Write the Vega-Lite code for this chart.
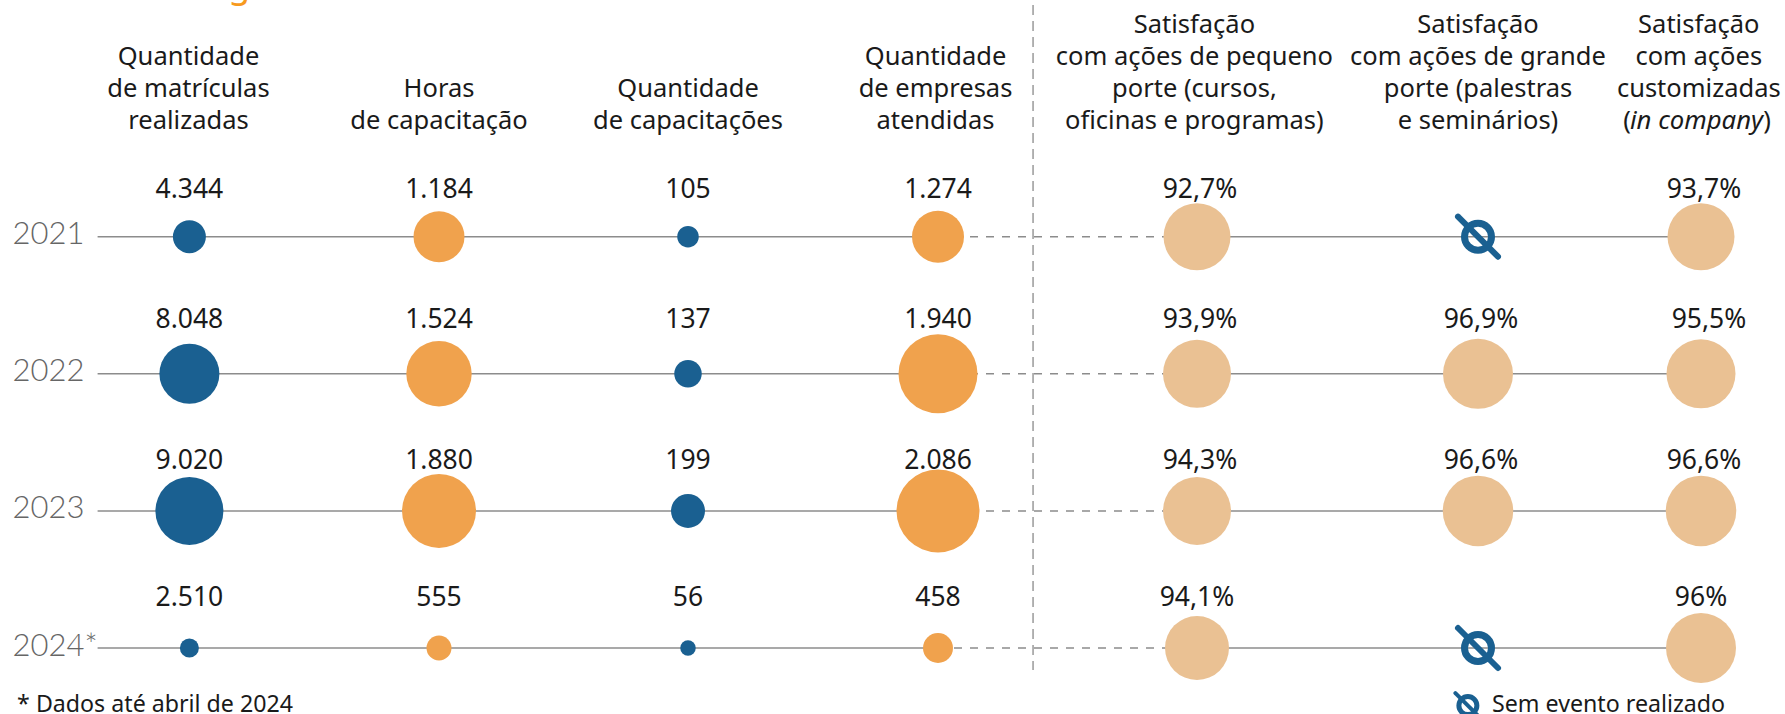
{"$schema":"https://vega.github.io/schema/vega-lite/v6.json","width":1785,"height":714,"autosize":"none","padding":0,"background":"white","config":{"view":{"stroke":null},"font":"Noto Sans"},
"datasets":{
"cells":[
{"year":2021,"col":1,"metric":"mat","value":4344,"label":"4.344"},{"year":2022,"col":1,"metric":"mat","value":8048,"label":"8.048"},{"year":2023,"col":1,"metric":"mat","value":9020,"label":"9.020"},{"year":2024,"col":1,"metric":"mat","value":2510,"label":"2.510"},
{"year":2021,"col":2,"metric":"hor","value":1184,"label":"1.184"},{"year":2022,"col":2,"metric":"hor","value":1524,"label":"1.524"},{"year":2023,"col":2,"metric":"hor","value":1880,"label":"1.880"},{"year":2024,"col":2,"metric":"hor","value":555,"label":"555"},
{"year":2021,"col":3,"metric":"cap","value":105,"label":"105"},{"year":2022,"col":3,"metric":"cap","value":137,"label":"137"},{"year":2023,"col":3,"metric":"cap","value":199,"label":"199"},{"year":2024,"col":3,"metric":"cap","value":56,"label":"56"},
{"year":2021,"col":4,"metric":"emp","value":1274,"label":"1.274"},{"year":2022,"col":4,"metric":"emp","value":1940,"label":"1.940"},{"year":2023,"col":4,"metric":"emp","value":2086,"label":"2.086"},{"year":2024,"col":4,"metric":"emp","value":458,"label":"458"},
{"year":2021,"col":5,"metric":"sat","value":92.7,"label":"92,7%","shift":"a"},{"year":2022,"col":5,"metric":"sat","value":93.9,"label":"93,9%","shift":"a"},{"year":2023,"col":5,"metric":"sat","value":94.3,"label":"94,3%","shift":"a"},{"year":2024,"col":5,"metric":"sat","value":94.1,"label":"94,1%"},
{"year":2022,"col":6,"metric":"sat","value":96.9,"label":"96,9%","shift":"a"},{"year":2023,"col":6,"metric":"sat","value":96.6,"label":"96,6%","shift":"a"},
{"year":2021,"col":7,"metric":"sat","value":93.7,"label":"93,7%","shift":"a"},{"year":2022,"col":7,"metric":"sat","value":95.5,"label":"95,5%","shift":"b"},{"year":2023,"col":7,"metric":"sat","value":96.6,"label":"96,6%","shift":"a"},{"year":2024,"col":7,"metric":"sat","value":96,"label":"96%"}
],
"segments":[
{"year":2021,"col":0,"col2":4,"kind":"solid"},{"year":2021,"col":4,"col2":5,"kind":"dash"},{"year":2021,"col":5,"col2":7,"kind":"solid"},
{"year":2022,"col":0,"col2":4,"kind":"solid"},{"year":2022,"col":4,"col2":5,"kind":"dash"},{"year":2022,"col":5,"col2":7,"kind":"solid"},
{"year":2023,"col":0,"col2":4,"kind":"solid"},{"year":2023,"col":4,"col2":5,"kind":"dash"},{"year":2023,"col":5,"col2":7,"kind":"solid"},
{"year":2024,"col":0,"col2":4,"kind":"solid"},{"year":2024,"col":4,"col2":5,"kind":"dash"},{"year":2024,"col":5,"col2":7,"kind":"solid"}
],
"divider":[{"col":4.367,"year":2019.31,"year2":2024.16}],
"years":[{"col":-0.927,"year":2021,"text":"2021"},{"col":-0.927,"year":2022,"text":"2022"},{"col":-0.927,"year":2023,"text":"2023"},{"col":-0.927,"year":2024,"text":"2024*"}],
"headers":[
{"col":0.99,"year":2019.748,"text":"Quantidade|de matrículas|realizadas"},
{"col":2,"year":2019.983,"text":"Horas|de capacitação"},
{"col":3,"year":2019.983,"text":"Quantidade|de capacitações"},
{"col":3.99,"year":2019.748,"text":"Quantidade|de empresas|atendidas"},
{"col":4.99,"year":2019.514,"text":"Satisfação|com ações de pequeno|porte (cursos,|oficinas e programas)"},
{"col":6,"year":2019.514,"text":"Satisfação|com ações de grande|porte (palestras|e seminários)"},
{"col":6.99,"year":2019.514,"text":"Satisfação|com ações|customizadas"},
{"col":6.668,"year":2020.214,"text":"("},
{"col":7.296,"year":2020.214,"text":")"}
],
"italic":[{"col":6.98,"year":2020.214,"text":"in company"}],
"noEvent":[{"col":6,"year":2021},{"col":6,"year":2024}],
"legendIcon":[{"col":5.964,"year":2024.42}],
"notes":[{"col":-0.877,"year":2024.465,"text":"* Dados até abril de 2024"},{"col":6.063,"year":2024.465,"text":"Sem evento realizado"}],
"cutTitle":[{"col":1.2,"year":2019.252,"text":"g"}]
},
"encoding":{
"x":{"field":"col","type":"quantitative","axis":null,"title":null,"scale":{"domain":[0,1,2,3,4,5,6,7],"range":[97.6,189.4,439,688,938,1197,1478,1701],"nice":false,"zero":false}},
"y":{"field":"year","type":"quantitative","axis":null,"title":null,"scale":{"domain":[2021,2024],"range":[236.7,648],"nice":false,"zero":false}}
},
"resolve":{"scale":{"size":"independent"}},
"layer":[
{"data":{"name":"segments"},"transform":[{"filter":"datum.kind==='solid'"}],"mark":{"type":"rule","color":"#8c8c8c","strokeWidth":1.5},"encoding":{"x2":{"field":"col2"}}},
{"data":{"name":"segments"},"transform":[{"filter":"datum.kind==='dash'"}],"mark":{"type":"rule","color":"#8c8c8c","strokeWidth":1.5,"strokeDash":[8,8]},"encoding":{"x2":{"field":"col2"}}},
{"data":{"name":"divider"},"mark":{"type":"rule","color":"#9a9a9a","strokeWidth":1.5,"strokeDash":[10,6]},"encoding":{"y2":{"field":"year2"}}},
{"data":{"name":"cells"},"transform":[{"filter":"datum.metric==='mat'"}],"mark":{"type":"circle","color":"#1a6091","opacity":1},"encoding":{"size":{"field":"value","type":"quantitative","legend":null,"scale":{"domain":[2510,4344,8048,9020],"range":[361,1089,3600,4624]}}}},
{"data":{"name":"cells"},"transform":[{"filter":"datum.metric==='hor'"}],"mark":{"type":"circle","color":"#f0a24d","opacity":1},"encoding":{"size":{"field":"value","type":"quantitative","legend":null,"scale":{"domain":[555,1184,1524,1880],"range":[625,2601,4277,5476]}}}},
{"data":{"name":"cells"},"transform":[{"filter":"datum.metric==='cap'"}],"mark":{"type":"circle","color":"#1a6091","opacity":1},"encoding":{"size":{"field":"value","type":"quantitative","legend":null,"scale":{"domain":[56,105,137,199],"range":[240,462,756,1156]}}}},
{"data":{"name":"cells"},"transform":[{"filter":"datum.metric==='emp'"}],"mark":{"type":"circle","color":"#f0a24d","opacity":1},"encoding":{"size":{"field":"value","type":"quantitative","legend":null,"scale":{"domain":[458,1274,1940,2086],"range":[900,2704,6241,6889]}}}},
{"data":{"name":"cells"},"transform":[{"filter":"datum.metric==='sat'"}],"mark":{"type":"circle","color":"#eac193","opacity":1},"encoding":{"size":{"field":"value","type":"quantitative","legend":null,"scale":{"domain":[92.7,93.7,93.9,94.1,94.3,95.5,96,96.6,96.9],"range":[4489,4489,4624,4096,4624,4761,4900,4970,4900]}}}},
{"data":{"name":"noEvent"},"mark":{"type":"point","filled":false,"shape":"circle","size":729,"stroke":"#1a6091","strokeWidth":7,"opacity":1}},
{"data":{"name":"noEvent"},"mark":{"type":"point","filled":false,"shape":"M-1,-1L1,1","size":1600,"stroke":"#1a6091","strokeWidth":6,"strokeCap":"round","opacity":1}},
{"data":{"name":"legendIcon"},"mark":{"type":"point","filled":false,"shape":"circle","size":324,"stroke":"#1a6091","strokeWidth":5,"opacity":1}},
{"data":{"name":"legendIcon"},"mark":{"type":"point","filled":false,"shape":"M-1,-1L1,1","size":625,"stroke":"#1a6091","strokeWidth":4,"strokeCap":"round","opacity":1}},
{"data":{"name":"cells"},"transform":[{"filter":"datum.year===2021 && !datum.shift"}],"mark":{"type":"text","fontSize":26.5,"color":"#1a1a1a","baseline":"alphabetic","align":"center","dy":-38.7},"encoding":{"text":{"field":"label"}}},
{"data":{"name":"cells"},"transform":[{"filter":"datum.year===2022 && !datum.shift"}],"mark":{"type":"text","fontSize":26.5,"color":"#1a1a1a","baseline":"alphabetic","align":"center","dy":-45.7},"encoding":{"text":{"field":"label"}}},
{"data":{"name":"cells"},"transform":[{"filter":"datum.year===2023 && !datum.shift"}],"mark":{"type":"text","fontSize":26.5,"color":"#1a1a1a","baseline":"alphabetic","align":"center","dy":-41.7},"encoding":{"text":{"field":"label"}}},
{"data":{"name":"cells"},"transform":[{"filter":"datum.year===2024 && !datum.shift"}],"mark":{"type":"text","fontSize":26.5,"color":"#1a1a1a","baseline":"alphabetic","align":"center","dy":-42},"encoding":{"text":{"field":"label"}}},
{"data":{"name":"cells"},"transform":[{"filter":"datum.year===2021 && datum.shift==='a'"}],"mark":{"type":"text","fontSize":26.5,"color":"#1a1a1a","baseline":"alphabetic","align":"center","dx":3,"dy":-38.7},"encoding":{"text":{"field":"label"}}},
{"data":{"name":"cells"},"transform":[{"filter":"datum.year===2022 && datum.shift==='a'"}],"mark":{"type":"text","fontSize":26.5,"color":"#1a1a1a","baseline":"alphabetic","align":"center","dx":3,"dy":-45.7},"encoding":{"text":{"field":"label"}}},
{"data":{"name":"cells"},"transform":[{"filter":"datum.year===2023 && datum.shift==='a'"}],"mark":{"type":"text","fontSize":26.5,"color":"#1a1a1a","baseline":"alphabetic","align":"center","dx":3,"dy":-41.7},"encoding":{"text":{"field":"label"}}},
{"data":{"name":"cells"},"transform":[{"filter":"datum.shift==='b'"}],"mark":{"type":"text","fontSize":26.5,"color":"#1a1a1a","baseline":"alphabetic","align":"center","dx":8,"dy":-45.7},"encoding":{"text":{"field":"label"}}},
{"data":{"name":"years"},"mark":{"type":"text","fontSize":31,"font":"Lato","fontWeight":300,"color":"#666666","align":"left","baseline":"alphabetic","dy":7.5},"encoding":{"text":{"field":"text"}}},
{"data":{"name":"headers"},"mark":{"type":"text","fontSize":25.5,"color":"#1a1a1a","align":"center","baseline":"alphabetic","lineBreak":"|","lineHeight":32},"encoding":{"text":{"field":"text"}}},
{"data":{"name":"italic"},"mark":{"type":"text","fontSize":25.7,"fontStyle":"italic","color":"#1a1a1a","align":"center","baseline":"alphabetic"},"encoding":{"text":{"field":"text"}}},
{"data":{"name":"notes"},"mark":{"type":"text","fontSize":23.2,"color":"#1a1a1a","align":"left","baseline":"alphabetic"},"encoding":{"text":{"field":"text"}}},
{"data":{"name":"cutTitle"},"mark":{"type":"text","fontSize":36,"color":"#f79a1e","align":"center","baseline":"alphabetic"},"encoding":{"text":{"field":"text"}}}
]}
